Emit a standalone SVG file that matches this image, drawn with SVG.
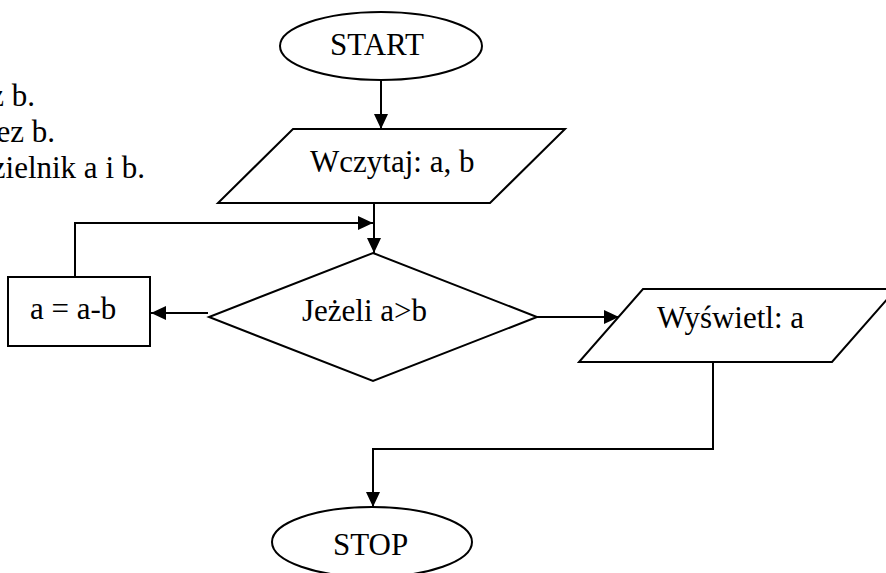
<svg xmlns="http://www.w3.org/2000/svg" width="886" height="573" viewBox="0 0 886 573">
<style>
.s{fill:#fff;stroke:#000;stroke-width:2}
.c{fill:none;stroke:#000;stroke-width:2}
text{font-family:"Liberation Serif","Times New Roman",serif;font-size:31px;fill:#000}
</style>
<defs>
<marker id="ah" markerUnits="userSpaceOnUse" viewBox="0 0 15 14" refX="15" refY="7" markerWidth="15" markerHeight="14" orient="auto">
<path d="M0,0 L15,7 L0,14 Z" fill="#000"/>
</marker>
</defs>
<rect width="886" height="573" fill="#fff"/>
<g id="note">
<text x="35" y="106" text-anchor="end">z b.</text>
<text x="55" y="142" text-anchor="end">ez b.</text>
<text x="145" y="178" text-anchor="end">zielnik a i b.</text>
</g>
<g id="connectors">
<path class="c" d="M381,80 V129" marker-end="url(#ah)"/>
<path class="c" d="M374,203 V253" marker-end="url(#ah)"/>
<path class="c" d="M75,277 V223 H373" marker-end="url(#ah)"/>
<path class="c" d="M208,313 H151" marker-end="url(#ah)"/>
<path class="c" d="M537,317 H619" marker-end="url(#ah)"/>
<path class="c" d="M713,362 V449 H373 V507" marker-end="url(#ah)"/>
</g>
<g id="start">
<ellipse class="s" cx="381" cy="46" rx="101" ry="34"/>
<text x="330" y="55">START</text>
</g>
<g id="input">
<polygon class="s" points="293,129 565,129 490,203 218,203"/>
<text x="310" y="172">Wczytaj: a, b</text>
</g>
<g id="decision">
<polygon class="s" points="373,253 537,317 373,381 209,317"/>
<text x="302" y="321">Jeżeli a&gt;b</text>
</g>
<g id="process">
<rect class="s" x="8" y="277" width="142" height="69"/>
<text x="30" y="319">a = a-b</text>
</g>
<g id="output">
<polygon class="s" points="643,289 896,289 832,362 579,362"/>
<text x="657" y="328">Wyświetl: a</text>
</g>
<g id="stop">
<ellipse class="s" cx="372" cy="542" rx="100" ry="35"/>
<text x="333" y="555">STOP</text>
</g>
</svg>
